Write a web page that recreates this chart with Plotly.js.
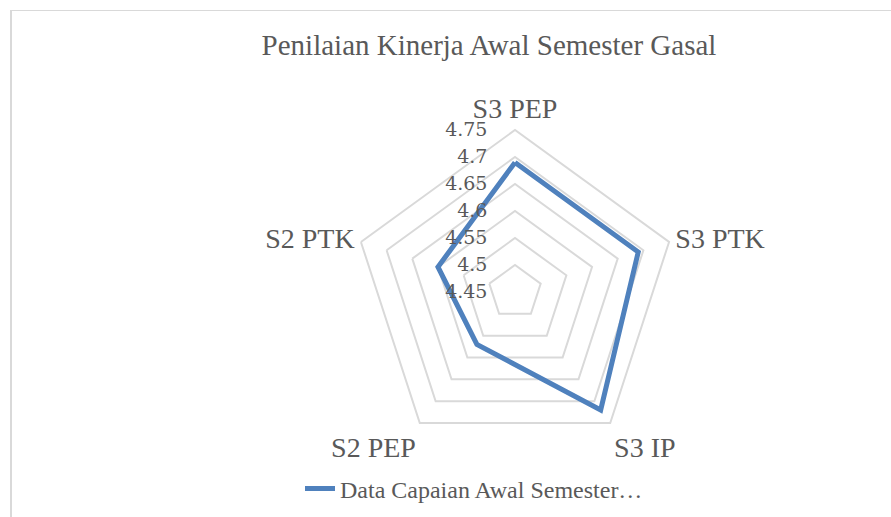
<!DOCTYPE html>
<html>
<head>
<meta charset="utf-8">
<script src="https://cdn.plot.ly/plotly-3.0.1.min.js"></script>
<style>
  html, body { margin: 0; padding: 0; background: #ffffff; }
  #wrap { position: relative; width: 891px; height: 517px; overflow: hidden; }
  #chart { width: 891px; height: 517px; }
  #frame { position: absolute; left: 10px; top: 10px; width: 900px; height: 520px;
           border-left: 2px solid #d9d9d9; border-top: 1px solid #d9d9d9; pointer-events: none; }
</style>
</head>
<body>
<div id="wrap">
  <div id="chart"></div>
  <div id="frame"></div>
</div>
<script>
const categories = ["S3 PEP", "S3 PTK", "S3 IP", "S2 PEP", "S2 PTK"];
const values = [4.69, 4.69, 4.72, 4.57, 4.60];
const seriesName = "Data Capaian Awal Semester…";
const chartTitle = "Penilaian Kinerja Awal Semester Gasal";
const radialTicks = [4.45, 4.5, 4.55, 4.6, 4.65, 4.7, 4.75];
const radialTickLabels = ["4.45", "4.5", "4.55", "4.6", "4.65", "4.7", "4.75"];

const textColor = "#595959";
const gridColor = "#d9d9d9";
const serif = "'Times New Roman', 'Liberation Serif', Tinos, serif";

// invisible padding so that labels sit right-aligned to the left of the axis
const hid = (s) => "<span style='color:rgba(0,0,0,0)'>" + s + "</span>";
const radialTickText = radialTickLabels.map(t => (t.length < 4 ? hid("0") : "") + t + hid("00"));

const trace = {
  type: "scatterpolar",
  r: values.concat([values[0]]),
  theta: categories.concat([categories[0]]),
  mode: "lines",
  name: seriesName,
  line: { color: "#4f81bd", width: 5 },
  showlegend: true
};

const layout = {
  width: 891,
  height: 517,
  paper_bgcolor: "#ffffff",
  plot_bgcolor: "#ffffff",
  margin: { l: 353, r: 214, t: 130, b: 63 },
  title: {
    text: chartTitle,
    font: { family: serif, size: 29, color: textColor },
    xref: "container", x: 489 / 891, xanchor: "center",
    yref: "container", y: 1 - 45 / 517, yanchor: "middle"
  },
  showlegend: true,
  legend: {
    orientation: "h",
    xref: "container", x: 300 / 891, xanchor: "left",
    yref: "container", y: 1 - 489 / 517, yanchor: "middle",
    font: { family: serif, size: 24, color: textColor },
    bgcolor: "rgba(0,0,0,0)"
  },
  polar: {
    domain: { x: [0, 1], y: [0, 1] },
    bgcolor: "#ffffff",
    gridshape: "linear",
    angularaxis: {
      direction: "clockwise",
      rotation: 90,
      showgrid: false,
      showline: true,
      linecolor: gridColor,
      linewidth: 2,
      ticks: "",
      tickfont: { family: serif, size: 28, color: textColor }
    },
    radialaxis: {
      range: [4.45, 4.75],
      angle: 90,
      side: "counterclockwise",
      tickvals: radialTicks,
      ticktext: radialTickText,
      showline: false,
      ticks: "",
      showgrid: true,
      gridcolor: gridColor,
      gridwidth: 2,
      tickangle: 90,
      tickfont: { family: "DejaVu Serif", size: 19, color: textColor }
    }
  }
};

Plotly.newPlot("chart", [trace], layout, { displayModeBar: false, staticPlot: true });
</script>
</body>
</html>
